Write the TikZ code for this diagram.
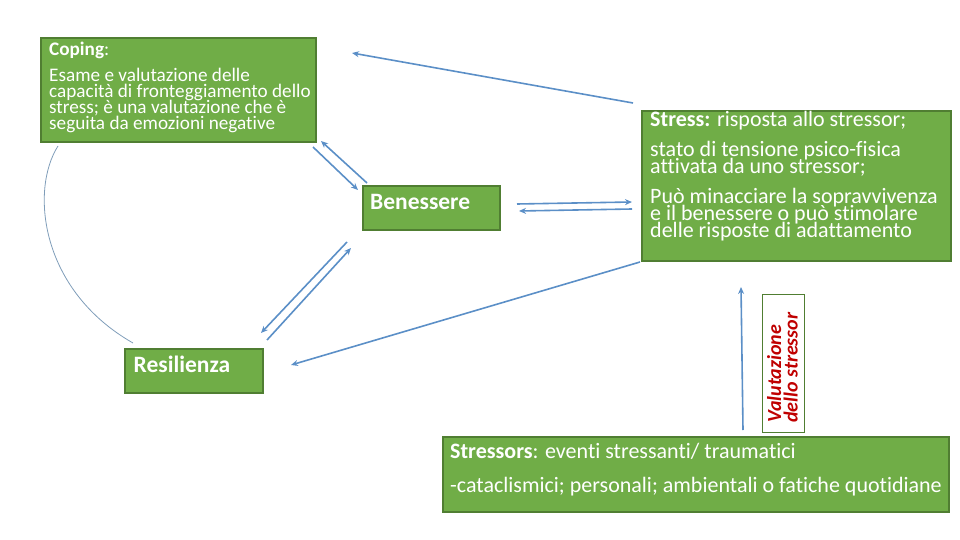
\documentclass[tikz,border=0pt]{standalone}
\usepackage{fontspec}
\setmainfont{Carlito}[Ligatures={NoCommon}]
\usetikzlibrary{arrows.meta}
\definecolor{boxfill}{HTML}{70AD47}
\definecolor{boxline}{HTML}{507E32}
\definecolor{arrowc}{HTML}{5B8FC7}
\definecolor{arcc}{HTML}{7F9DB9}
\definecolor{redtxt}{HTML}{C00000}
\newcommand{\tightlines}{\lineskiplimit -40pt\relax}
\tikzset{
  gbox/.style={draw=boxline, line width=1.8pt, fill=boxfill, anchor=north west, inner sep=0pt},
  wtext/.style={text=white, anchor=base west, inner sep=0pt, align=left},
  conn/.style={draw=arrowc, line width=1.6pt, -{Stealth[length=7pt,width=6pt]}},
}
\begin{document}
\begin{tikzpicture}[x=1pt,y=-1pt]
\useasboundingbox (0,0) rectangle (960,540);
% boxes
\node[gbox, minimum width=275pt, minimum height=104pt] (coping) at (40,37) {};
\node[gbox, minimum width=309pt, minimum height=150pt] (stress) at (641,110) {};
\node[gbox, minimum width=137pt, minimum height=44pt] (benessere) at (362,185) {};
\node[gbox, minimum width=138pt, minimum height=44pt] (resilienza) at (124,348) {};
\node[gbox, minimum width=506pt, minimum height=75pt] (stressors) at (442,436) {};
\node[draw=boxline, line width=1.2pt, fill=white, anchor=north west, minimum width=42pt, minimum height=138pt] (valbox) at (762,294) {};
% texts (anchored at the baseline of their last line)
\node[wtext, font={\fontsize{19.2}{16.2}\selectfont\tightlines}] (copingtext) at (49,130) {\textbf{Coping}:\\[9.5pt]
Esame e valutazione delle\\
capacità di fronteggiamento dello\\
stress; è una valutazione che è\\
seguita da emozioni negative};
\node[wtext, font={\fontsize{22}{17.2}\selectfont\tightlines}] (stresstext) at (650,237.7) {\textbf{Stress:} risposta allo stressor;\\[12.8pt]
stato di tensione psico-fisica\\
attivata da uno stressor;\\[12.2pt]
Può minacciare la sopravvivenza\\
e il benessere o può stimolare\\
delle risposte di adattamento};
\node[wtext, font={\fontsize{23.5}{23.5}\selectfont\bfseries}] (benesseretext) at (370,209.3) {Benessere};
\node[wtext, font={\fontsize{23.5}{23.5}\selectfont\bfseries}] (resilienzatext) at (133.5,372.3) {Resilienza};
\node[wtext, font={\fontsize{22}{34}\selectfont\tightlines}] (stressorstext) at (450,492.3) {\textbf{Stressors}: eventi stressanti/ traumatici\\
-cataclismici; personali; ambientali o fatiche quotidiane};
\node[text=redtxt, rotate=90, anchor=base west, inner sep=0pt, align=left, font={\fontsize{20}{16.7}\selectfont\tightlines\bfseries\itshape}] (valtext) at (797.7,423) {Valutazione\\dello stressor};
% connectors
\coordinate (s1) at (633,103);
\coordinate (c1) at (352,53);
\draw[conn] (s1) -- (c1);
\coordinate (cb1) at (313,147);
\coordinate (cb2) at (358,190);
\draw[conn] (cb1) -- (cb2);
\coordinate (bc1) at (367,183);
\coordinate (bc2) at (321,141);
\draw[conn] (bc1) -- (bc2);
\coordinate (bs1) at (517,204);
\coordinate (bs2) at (632,202);
\draw[conn] (bs1) -- (bs2);
\coordinate (sb1) at (632,209);
\coordinate (sb2) at (519,211);
\draw[conn] (sb1) -- (sb2);
\coordinate (br1) at (347,242);
\coordinate (br2) at (261,333);
\draw[conn] (br1) -- (br2);
\coordinate (rb1) at (267,340);
\coordinate (rb2) at (351,248);
\draw[conn] (rb1) -- (rb2);
\coordinate (sr1) at (640,262);
\coordinate (sr2) at (291,365);
\draw[conn] (sr1) -- (sr2);
\coordinate (v1) at (743,430);
\coordinate (v2) at (741,287);
\draw[conn] (v1) -- (v2);
% arc
\coordinate (a1) at (58,146);
\coordinate (a2) at (133,343);
\draw[arcc, line width=0.8pt] (a1) .. controls (30,190) and (40,290) .. (a2);
\end{tikzpicture}
\end{document}
